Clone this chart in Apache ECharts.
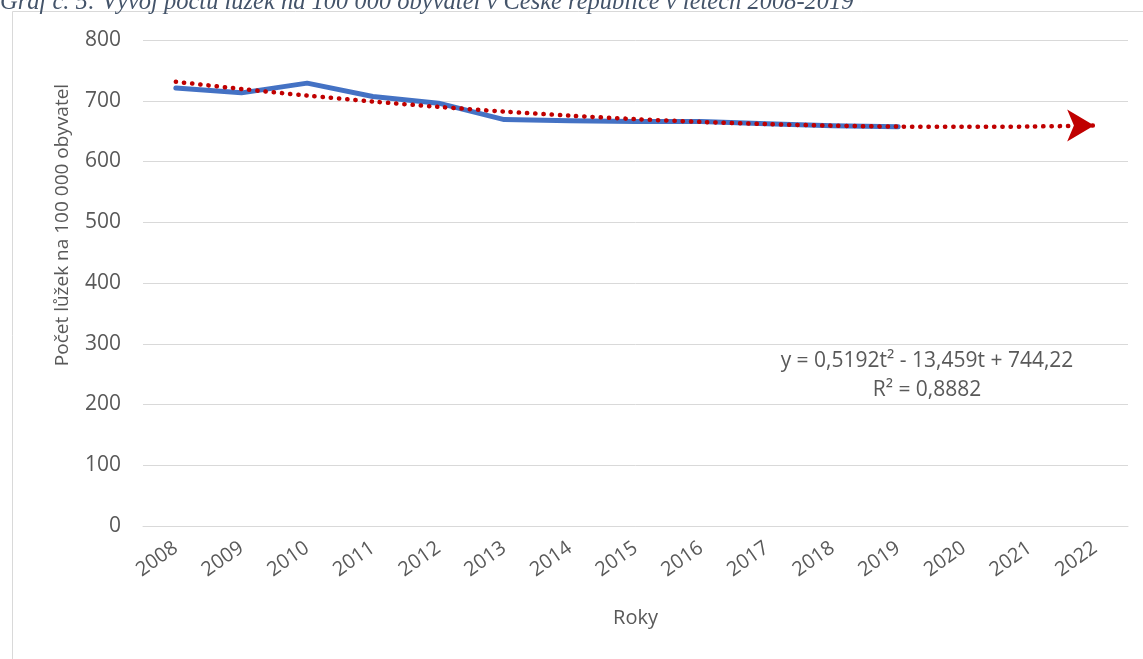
<!DOCTYPE html>
<html>
<head>
<meta charset="utf-8">
<script src="https://cdn.jsdelivr.net/npm/echarts@6/dist/echarts.min.js"></script>
<style>
  html, body { margin: 0; padding: 0; background: #ffffff; }
  #chart { width: 1143px; height: 659px; }
</style>
</head>
<body>
<div id="chart"></div>
<script>
// Years on the category axis (observed 2008-2019, projected to 2022)
const years = ['2008', '2009', '2010', '2011', '2012', '2013', '2014',
               '2015', '2016', '2017', '2018', '2019', '2020', '2021', '2022'];

// Hospital beds per 100 000 inhabitants, 2008-2019
const beds = [721, 713, 729, 707, 696, 669, 667, 666, 666, 662, 659, 657];

// Polynomial trend values for t = 1..15 (y = 0,5192t² - 13,459t + 744,22)
const trend = [731.28, 719.38, 708.52, 698.69, 689.91, 682.16, 675.45, 669.78,
               665.14, 661.55, 658.99, 657.48, 657.00, 657.56, 659.16];

// Value-axis ticks
const yMin = 0, yMax = 800, yStep = 100;

const titleText = 'Graf č. 5: Vývoj počtu lůžek na 100 000 obyvatel v České republice v letech 2008-2019';
const yName = 'Počet lůžek na 100 000 obyvatel';
const xName = 'Roky';
const eqLine1 = 'y = 0,5192t² - 13,459t + 744,22';
const eqLine2 = 'R² = 0,8882';

const FONT = '"Open Sans", "Noto Sans", sans-serif';
const TXT = '#595959';
const GRID = '#d9d9d9';

const chart = echarts.init(document.getElementById('chart'), null, { renderer: 'canvas' });

// Trend series: plain dotted line, arrow head on the last point
const trendData = trend.map((v, i) => i === trend.length - 1
  ? { value: v, symbol: 'arrow', symbolSize: [24, 27], symbolRotate: -90, symbolOffset: [-1, 0],
      itemStyle: { color: '#C00000' } }
  : v);

chart.setOption({
  animation: false,
  backgroundColor: '#ffffff',
  grid: { left: 143, right: 15, top: 40, bottom: 133, containLabel: false },
  xAxis: {
    type: 'category',
    data: years,
    boundaryGap: true,
    name: xName,
    nameLocation: 'middle',
    nameGap: 82,
    nameTextStyle: { fontFamily: FONT, fontSize: 20, color: TXT },
    axisLine: { show: true, lineStyle: { color: GRID, width: 1 } },
    axisTick: { show: false },
    axisLabel: {
      rotate: 35,
      margin: 20,
      interval: 0,
      fontFamily: FONT,
      fontSize: 20,
      color: TXT
    },
    splitLine: { show: false }
  },
  yAxis: {
    type: 'value',
    min: yMin,
    max: yMax,
    interval: yStep,
    axisLine: { show: false },
    axisTick: { show: false },
    axisLabel: { margin: 22, fontFamily: FONT, fontSize: 21, color: TXT },
    splitLine: { show: true, lineStyle: { color: GRID, width: 1 } }
  },
  series: [
    {
      name: 'Počet lůžek',
      type: 'line',
      data: beds,
      symbol: 'none',
      lineStyle: { color: '#4472C4', width: 5, cap: 'round', join: 'round' },
      itemStyle: { color: '#4472C4' },
      z: 2
    },
    {
      name: 'Trend',
      type: 'line',
      data: trendData,
      symbol: 'none',
      smooth: 0.3,
      lineStyle: { color: '#C00000', width: 4.5, type: [0.3, 7.9], cap: 'round' },
      itemStyle: { color: '#C00000' },
      z: 3
    }
  ],
  graphic: [
    {
      type: 'rect',
      left: 10, top: 9,
      shape: { x: 0, y: 0, width: 1200, height: 700 },
      style: { fill: 'none', stroke: GRID, lineWidth: 1 },
      silent: true, z: -10
    },
    {
      type: 'text',
      x: 0, y: 15,
      style: {
        text: titleText,
        fill: '#44546A',
        font: 'italic 24.5px "Liberation Serif", "DejaVu Serif", serif',
        verticalAlign: 'bottom',
        align: 'left'
      },
      z: 10
    },
    {
      type: 'text',
      x: 63, y: 225,
      rotation: Math.PI / 2,
      style: {
        text: yName,
        fill: TXT,
        font: '19px ' + FONT,
        align: 'center',
        verticalAlign: 'middle'
      }
    },
    {
      type: 'text',
      x: 927, y: 361,
      style: {
        text: eqLine1,
        fill: TXT,
        font: '21px ' + FONT,
        align: 'center',
        verticalAlign: 'middle'
      }
    },
    {
      type: 'text',
      x: 927, y: 390,
      style: {
        text: eqLine2,
        fill: TXT,
        font: '21px ' + FONT,
        align: 'center',
        verticalAlign: 'middle'
      }
    }
  ]
});
</script>
</body>
</html>
